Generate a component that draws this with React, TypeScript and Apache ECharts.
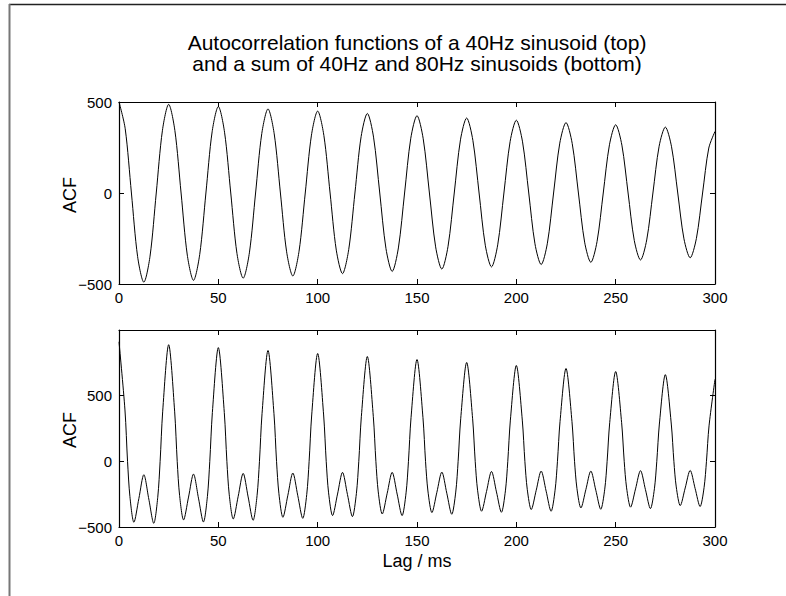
import React, { useEffect, useRef } from "react";
import * as echarts from "echarts";

const titleLines = [
  "Autocorrelation functions of a 40Hz sinusoid (top)",
  "and a sum of 40Hz and 80Hz sinusoids (bottom)",
];
const yLabel = "ACF";
const xLabel = "Lag / ms";

// Top panel: ACF of a 40 Hz sinusoid (lag in ms, ACF value)
const topLag = [
  0, 3.125, 6.25, 9.375, 12.5, 15.625, 18.75, 21.875,
  25, 28.125, 31.25, 34.375, 37.5, 40.625, 43.75, 46.875,
  50, 53.125, 56.25, 59.375, 62.5, 65.625, 68.75, 71.875,
  75, 78.125, 81.25, 84.375, 87.5, 90.625, 93.75, 96.875,
  100, 103.125, 106.25, 109.375, 112.5, 115.625, 118.75, 121.875,
  125, 128.125, 131.25, 134.375, 137.5, 140.625, 143.75, 146.875,
  150, 153.125, 156.25, 159.375, 162.5, 165.625, 168.75, 171.875,
  175, 178.125, 181.25, 184.375, 187.5, 190.625, 193.75, 196.875,
  200, 203.125, 206.25, 209.375, 212.5, 215.625, 218.75, 221.875,
  225, 228.125, 231.25, 234.375, 237.5, 240.625, 243.75, 246.875,
  250, 253.125, 256.25, 259.375, 262.5, 265.625, 268.75, 271.875,
  275, 278.125, 281.25, 284.375, 287.5, 290.625, 293.75, 296.875,
  300,
];
const topAcf = [
  500, 353, 0, -350, -490, -347, 0, 345,
  487, 343, 0, -341, -480, -338, 0, 336,
  475, 334, 0, -332, -468, -329, 0, 327,
  462, 325, 0, -323, -456, -320, 0, 318,
  450, 316, 0, -314, -443, -311, 0, 310,
  437, 307, 0, -305, -431, -302, 0, 301,
  425, 298, 0, -296, -418, -293, 0, 292,
  412, 289, 0, -287, -406, -285, 0, 283,
  400, 281, 0, -279, -393, -276, 0, 274,
  387, 272, 0, -270, -381, -267, 0, 265,
  375, 263, 0, -261, -368, -258, 0, 257,
  362, 254, 0, -252, -356, -250, 0, 247,
  338,
];

// Bottom panel: ACF of a sum of 40 Hz and 80 Hz sinusoids
const bottomLag = [
  0, 3, 4.3, 5.5, 7.5, 10, 12.5, 15, 17.5, 19.5, 20.7, 22,
  25, 28, 29.3, 30.5, 32.5, 35, 37.5, 40, 42.5, 44.5, 45.7, 47,
  50, 53, 54.3, 55.5, 57.5, 60, 62.5, 65, 67.5, 69.5, 70.7, 72,
  75, 78, 79.3, 80.5, 82.5, 85, 87.5, 90, 92.5, 94.5, 95.7, 97,
  100, 103, 104.3, 105.5, 107.5, 110, 112.5, 115, 117.5, 119.5, 120.7, 122,
  125, 128, 129.3, 130.5, 132.5, 135, 137.5, 140, 142.5, 144.5, 145.7, 147,
  150, 153, 154.3, 155.5, 157.5, 160, 162.5, 165, 167.5, 169.5, 170.7, 172,
  175, 178, 179.3, 180.5, 182.5, 185, 187.5, 190, 192.5, 194.5, 195.7, 197,
  200, 203, 204.3, 205.5, 207.5, 210, 212.5, 215, 217.5, 219.5, 220.7, 222,
  225, 228, 229.3, 230.5, 232.5, 235, 237.5, 240, 242.5, 244.5, 245.7, 247,
  250, 253, 254.3, 255.5, 257.5, 260, 262.5, 265, 267.5, 269.5, 270.7, 272,
  275, 278, 279.3, 280.5, 282.5, 285, 287.5, 290, 292.5, 294.5, 295.7, 297,
  300,
];
const bottomAcf = [
  910, 391, 0, -269, -464, -283, -102, -287, -472, -274, 0, 382,
  888, 382, 0, -259, -446, -272, -97, -280, -462, -268, 0, 372,
  866, 372, 0, -255, -439, -266, -92, -271, -449, -260, 0, 363,
  844, 363, 0, -247, -426, -258, -89, -262, -434, -252, 0, 353,
  821, 353, 0, -240, -413, -249, -84, -253, -421, -244, 0, 343,
  798, 343, 0, -233, -401, -243, -84, -249, -413, -240, 0, 333,
  775, 333, 0, -226, -390, -236, -82, -243, -403, -234, 0, 324,
  753, 324, 0, -220, -380, -229, -77, -233, -388, -225, 0, 314,
  730, 314, 0, -213, -367, -221, -74, -227, -380, -220, 0, 304,
  707, 304, 0, -206, -355, -215, -74, -220, -365, -212, 0, 294,
  684, 294, 0, -202, -349, -210, -71, -216, -360, -209, 0, 284,
  660, 284, 0, -195, -337, -203, -69, -207, -344, -200, 0, 270,
  625,
];

const FONT = "'Liberation Sans', Arial, Helvetica, sans-serif";
const BLACK = "#000";

const fmt = (v: number) => String(v).replace("-", "\u2212");

function xAxes(gridIndex: number) {
  const base = {
    gridIndex,
    type: "value" as const,
    min: 0,
    max: 300,
    interval: 50,
    splitLine: { show: false },
    axisLine: { show: true, onZero: false, lineStyle: { color: BLACK, width: 1.2 } },
    axisTick: { show: true, inside: true, length: 5, lineStyle: { color: BLACK } },
  };
  return [
    {
      ...base,
      position: "bottom",
      axisLabel: { show: true, color: BLACK, fontSize: 15, fontFamily: FONT, margin: 6, formatter: fmt },
    },
    { ...base, position: "top", axisLabel: { show: false } },
  ];
}

function yAxes(gridIndex: number, min: number, max: number) {
  const base = {
    gridIndex,
    type: "value" as const,
    min,
    max,
    interval: 500,
    splitLine: { show: false },
    axisLine: { show: true, onZero: false, lineStyle: { color: BLACK, width: 1.2 } },
    axisTick: { show: true, inside: true, length: 5, lineStyle: { color: BLACK } },
  };
  return [
    {
      ...base,
      position: "left",
      axisLabel: {
        show: true,
        color: BLACK,
        fontSize: 15,
        fontFamily: FONT,
        margin: 7,
        formatter: (v: number) => (v > 500 ? "" : fmt(v)),
      },
    },
    { ...base, position: "right", axisLabel: { show: false } },
  ];
}

export default function App() {
  const ref = useRef<HTMLDivElement>(null);
  useEffect(() => {
    if (!ref.current) return;
    const chart = echarts.init(ref.current, null, { renderer: "svg" });
    const topData = topLag.map((l, i) => [l, topAcf[i]]);
    const bottomData = bottomLag.map((l, i) => [l, bottomAcf[i]]);
    const titleStyle = {
      fontSize: 21,
      fontFamily: FONT,
      fill: BLACK,
      align: "center",
      verticalAlign: "middle",
    };
    chart.setOption({
      animation: false,
      backgroundColor: "#fff",
      grid: [
        { left: 119, top: 102, width: 596, height: 182 },
        { left: 119, top: 330, width: 596, height: 197 },
      ],
      xAxis: [...xAxes(0), ...xAxes(1)],
      yAxis: [...yAxes(0, -500, 500), ...yAxes(1, -500, 1000)],
      series: [
        {
          type: "line",
          xAxisIndex: 0,
          yAxisIndex: 0,
          data: topData,
          showSymbol: false,
          smooth: 0.3,
          lineStyle: { color: BLACK, width: 1 },
          silent: true,
        },
        {
          type: "line",
          xAxisIndex: 2,
          yAxisIndex: 2,
          data: bottomData,
          showSymbol: false,
          smooth: 0.3,
          lineStyle: { color: BLACK, width: 1 },
          silent: true,
        },
      ],
      graphic: [
        { type: "line", shape: { x1: 9, y1: 4.5, x2: 786, y2: 4.5 }, style: { stroke: "#222", lineWidth: 1.5 } },
        { type: "line", shape: { x1: 9.5, y1: 4, x2: 9.5, y2: 596 }, style: { stroke: "#777", lineWidth: 2 } },
        { type: "text", x: 417, y: 42, style: { ...titleStyle, text: titleLines[0] } },
        { type: "text", x: 417, y: 63.5, style: { ...titleStyle, text: titleLines[1] } },
        {
          type: "text",
          x: 70,
          y: 195,
          rotation: Math.PI / 2,
          style: { text: yLabel, fontSize: 18, fontFamily: FONT, fill: BLACK, align: "center", verticalAlign: "middle" },
        },
        {
          type: "text",
          x: 70,
          y: 430,
          rotation: Math.PI / 2,
          style: { text: yLabel, fontSize: 18, fontFamily: FONT, fill: BLACK, align: "center", verticalAlign: "middle" },
        },
        {
          type: "text",
          x: 417,
          y: 561,
          style: { text: xLabel, fontSize: 18, fontFamily: FONT, fill: BLACK, align: "center", verticalAlign: "middle" },
        },
      ],
    });
    return () => chart.dispose();
  }, []);
  return (
    <div
      ref={ref}
      style={{ position: "fixed", left: 0, top: 0, width: 786, height: 596, background: "#fff" }}
    />
  );
}
